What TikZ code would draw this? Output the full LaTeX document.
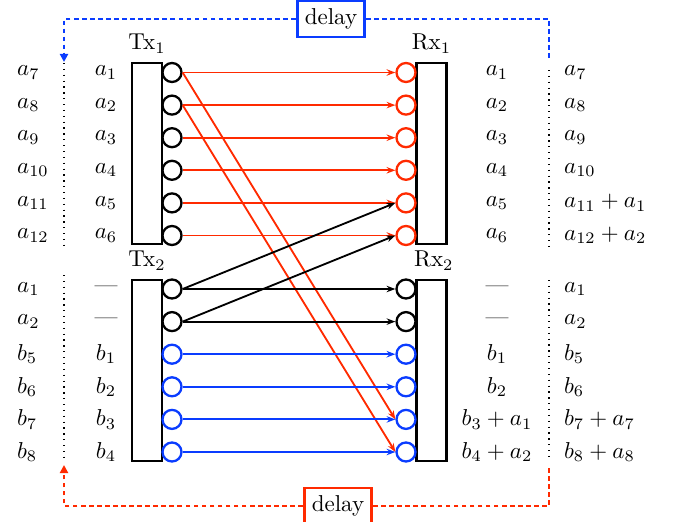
\documentclass[tikz,border=0pt]{standalone}
\usetikzlibrary{arrows.meta,positioning}
\definecolor{sigred}{HTML}{FF2A00}
\definecolor{sigblue}{HTML}{0A3CFF}
\newcommand{\Px}{0.435pt}
\newcommand{\TxX}{172}
\newcommand{\RxX}{406}
\newcommand{\TxBoxX}{147}
\newcommand{\RxBoxX}{431.5}
\newcommand{\TopY}{72.5}
\newcommand{\BotY}{289}
\newcommand{\RowGap}{32.6}
\newcommand{\OutL}{9}
\newcommand{\InL}{106}
\newcommand{\InR}{497}
\newcommand{\OutR}{556}
\newcommand{\DotL}{64}
\newcommand{\DotR}{549}

\begin{document}
\begin{tikzpicture}[
    x=\Px, y=-\Px,
    port/.style={circle, draw, line width=1pt, fill=white, minimum size=19*\Px, inner sep=0pt},
    antenna/.style={draw, line width=1.3pt, minimum width=30*\Px, minimum height=181*\Px, inner sep=0pt},
    link/.style={-{Stealth[length=3.8pt, width=2.8pt]}, line width=0.8pt},
    feedback/.style={line width=0.9pt, dash pattern=on 2pt off 1.5pt},
    delaybox/.style={draw, line width=1.2pt, fill=white},
    sep/.style={dotted, line width=0.55pt},
  ]
\useasboundingbox (0,0) rectangle (673,522);

% --- Antenna arrays --------------------------------------------------------------
\node[antenna] (txA) at (\TxBoxX, 153.5) {};
\node[antenna] (rxA) at (\RxBoxX, 153.5) {};
\node[antenna] (txB) at (\TxBoxX, 370.5) {};
\node[antenna] (rxB) at (\RxBoxX, 370.5) {};
\node[above=0pt of txA] (tagTa) {Tx$_1$};
\node[above=0pt of rxA] (tagRa) {Rx$_1$};
\node[above=0pt of txB] (tagTb) {Tx$_2$};
\node[above=0pt of rxB, xshift=1pt] (tagRb) {Rx$_2$};

% --- Ports -------------------------------------------------------------------------
\foreach \i [evaluate=\i as \y using {\TopY+(\i-1)*\RowGap}] in {1,...,6} {
  \node[port] (ta\i) at (\TxX, \y) {};
  \node[port, draw=sigred] (ra\i) at (\RxX, \y) {};
}
\foreach \i/\col [evaluate=\i as \y using {\BotY+(\i-1)*\RowGap}] in {1/black, 2/black, 3/sigblue, 4/sigblue, 5/sigblue, 6/sigblue} {
  \node[port, draw=\col] (tb\i) at (\TxX, \y) {};
  \node[port, draw=\col] (rb\i) at (\RxX, \y) {};
}

% --- Symbols per slot ----------------------------------------------------------------
\foreach \i/\lo/\li/\ri/\ro [evaluate=\i as \y using {\TopY+(\i-1)*\RowGap}] in
  {1/{$a_7$}/{$a_1$}/{$a_1$}/{$a_7$},
   2/{$a_8$}/{$a_2$}/{$a_2$}/{$a_8$},
   3/{$a_9$}/{$a_3$}/{$a_3$}/{$a_9$},
   4/{$a_{10}$}/{$a_4$}/{$a_4$}/{$a_{10}$},
   5/{$a_{11}$}/{$a_5$}/{$a_5$}/{$a_{11}+a_1$},
   6/{$a_{12}$}/{$a_6$}/{$a_6$}/{$a_{12}+a_2$}} {
  \node[anchor=west] (loA\i) at (\OutL, \y) {\lo};
  \node (liA\i) at (\InL, \y) {\li};
  \node (riA\i) at (\InR, \y) {\ri};
  \node[anchor=west] (roA\i) at (\OutR, \y) {\ro};
}
\foreach \i/\lo/\li/\ri/\ro [evaluate=\i as \y using {\BotY+(\i-1)*\RowGap}] in
  {1/{$a_1$}/{---}/{---}/{$a_1$},
   2/{$a_2$}/{---}/{---}/{$a_2$},
   3/{$b_5$}/{$b_1$}/{$b_1$}/{$b_5$},
   4/{$b_6$}/{$b_2$}/{$b_2$}/{$b_6$},
   5/{$b_7$}/{$b_3$}/{$b_3+a_1$}/{$b_7+a_7$},
   6/{$b_8$}/{$b_4$}/{$b_4+a_2$}/{$b_8+a_8$}} {
  \node[anchor=west] (loB\i) at (\OutL, \y) {\lo};
  \node (liB\i) at (\InL, \y) {\li};
  \node (riB\i) at (\InR, \y) {\ri};
  \node[anchor=west] (roB\i) at (\OutR, \y) {\ro};
}

% --- Separators between old and new slots ------------------------------------------
\coordinate (sepLa) at (\DotL, 63);  \coordinate (sepLb) at (\DotL, 247);
\coordinate (sepLc) at (\DotL, 275); \coordinate (sepLd) at (\DotL, 457);
\coordinate (sepRa) at (\DotR, 70);  \coordinate (sepRb) at (\DotR, 250);
\coordinate (sepRc) at (\DotR, 280); \coordinate (sepRd) at (\DotR, 458);
\draw[sep] (sepLa) -- (sepLb);
\draw[sep] (sepLc) -- (sepLd);
\draw[sep] (sepRa) -- (sepRb);
\draw[sep] (sepRc) -- (sepRd);

% --- Links ----------------------------------------------------------------------------
\foreach \i in {1,...,6}
  \draw[link, sigred] (ta\i.east) -- (ra\i.west);
\draw[link, sigred] (ta1.east) -- (rb5.west);
\draw[link, sigred] (ta2.east) -- (rb6.west);
\draw[link] (tb1.east) -- (ra5.west);
\draw[link] (tb2.east) -- (ra6.west);
\draw[link] (tb1.east) -- (rb1.west);
\draw[link] (tb2.east) -- (rb2.west);
\foreach \i in {3,...,6}
  \draw[link, sigblue] (tb\i.east) -- (rb\i.west);

% --- Delay loops -----------------------------------------------------------------------
\node[delaybox, draw=sigblue] (delayA) at (331, 19) {delay};
\node[delaybox, draw=sigred] (delayB) at (338, 506) {delay};
\coordinate (upR) at (\DotR, 58);
\coordinate (upL) at (\DotL, 62);
\coordinate (dnR) at (\DotR, 468);
\coordinate (dnL) at (\DotL, 465);
\draw[feedback, sigblue] (upR) |- (delayA.east);
\draw[feedback, sigblue, -{Triangle[length=3.5pt, width=3.5pt]}] (delayA.west) -| (upL);
\draw[feedback, sigred] (dnR) |- (delayB.east);
\draw[feedback, sigred, -{Triangle[length=3.5pt, width=3.5pt]}] (delayB.west) -| (dnL);

\end{tikzpicture}
\end{document}
